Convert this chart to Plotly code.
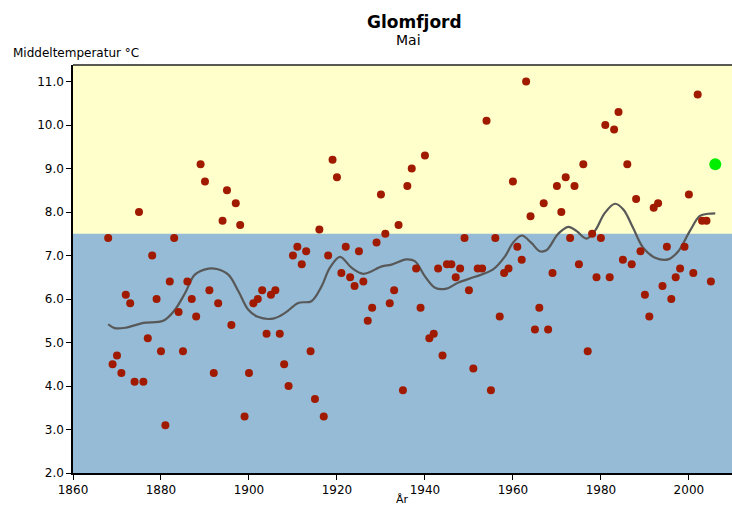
import plotly.graph_objects as go

years = list(range(1868, 2006))
temps = [
    7.4, 4.5, 4.7, 4.3, 6.1, 5.9, 4.1, 8.0, 4.1, 5.1,   # 1868-1877
    7.0, 6.0, 4.8, 3.1, 6.4, 7.4, 5.7, 4.8, 6.4, 6.0,   # 1878-1887
    5.6, 9.1, 8.7, 6.2, 4.3, 5.9, 7.8, 8.5, 5.4, 8.2,   # 1888-1897
    7.7, 3.3, 4.3, 5.9, 6.0, 6.2, 5.2, 6.1, 6.2, 5.2,   # 1898-1907
    4.5, 4.0, 7.0, 7.2, 6.8, 7.1, 4.8, 3.7, 7.6, 3.3,   # 1908-1917
    7.0, 9.2, 8.8, 6.6, 7.2, 6.5, 6.3, 7.1, 6.4, 5.5,   # 1918-1927
    5.8, 7.3, 8.4, 7.5, 5.9, 6.2, 7.7, 3.9, 8.6, 9.0,   # 1928-1937
    6.7, 5.8, 9.3, 5.1, 5.2, 6.7, 4.7, 6.8, 6.8, 6.5,   # 1938-1947
    6.7, 7.4, 6.2, 4.4, 6.7, 6.7, 10.1, 3.9, 7.4, 5.6,  # 1948-1957
    6.6, 6.7, 8.7, 7.2, 6.9, 11.0, 7.9, 5.3, 5.8, 8.2,  # 1958-1967
    5.3, 6.6, 8.6, 8.0, 8.8, 7.4, 8.6, 6.8, 9.1, 4.8,   # 1968-1977
    7.5, 6.5, 7.4, 10.0, 6.5, 9.9, 10.3, 6.9, 9.1, 6.8, # 1978-1987
    8.3, 7.1, 6.1, 5.6, 8.1, 8.2, 6.3, 7.2, 6.0, 6.5,   # 1988-1997
    6.7, 7.2, 8.4, 6.6, 10.7, 7.8, 7.8, 6.4,            # 1998-2005
]

current_year = [2006]
current_temp = [9.1]

smooth_years = [1868, 1869.5, 1872, 1876, 1880.5, 1883, 1885.5, 1887.7, 1890.8,
                1892.7, 1895.3, 1897.6, 1899.8, 1902, 1905.5, 1908.2, 1911.2,
                1914.2, 1916.5, 1918.4, 1920.7, 1923.3, 1926, 1930.2, 1932.4,
                1935.8, 1937.7, 1940, 1942.3, 1944.9, 1947.6, 1951.4, 1955.5,
                1958.2, 1960, 1962, 1964.2, 1966.1, 1967.6, 1970.3, 1972.6,
                1974.5, 1976.7, 1978.6, 1980.9, 1983.2, 1985.1, 1987.3, 1989.6,
                1992.3, 1995.3, 1997.6, 2000.2, 2002.5, 2004.4, 2006]
smooth_vals = [5.42, 5.33, 5.34, 5.45, 5.50, 5.73, 6.14, 6.56, 6.70,
               6.69, 6.56, 6.18, 5.76, 5.59, 5.55, 5.68, 5.91,
               5.95, 6.29, 6.72, 6.97, 6.72, 6.58, 6.75, 6.79,
               6.91, 6.87, 6.52, 6.26, 6.24, 6.38, 6.51, 6.68,
               6.98, 7.29, 7.46, 7.29, 7.10, 7.12, 7.50, 7.66,
               7.56, 7.39, 7.56, 7.98, 8.19, 8.06, 7.64, 7.18,
               6.95, 6.91, 7.10, 7.56, 7.91, 7.96, 7.97]

normal_level = 7.5
x_ticks = [1860, 1880, 1900, 1920, 1940, 1960, 1980, 2000]
y_ticks = [2.0, 3.0, 4.0, 5.0, 6.0, 7.0, 8.0, 9.0, 10.0, 11.0]

FONT = "DejaVu Sans"

fig = go.Figure()
fig.add_trace(go.Scatter(x=smooth_years, y=smooth_vals, mode="lines",
                         line=dict(color="#585858", width=2.2, shape="spline", smoothing=1.0),
                         hoverinfo="skip", showlegend=False))
fig.add_trace(go.Scatter(x=years, y=temps, mode="markers",
                         marker=dict(color="#a01a00", size=8, line=dict(width=0)),
                         showlegend=False))
fig.add_trace(go.Scatter(x=current_year, y=current_temp, mode="markers",
                         marker=dict(color="#00ee00", size=12, line=dict(width=0)),
                         showlegend=False, cliponaxis=False))

# background bands
fig.add_shape(type="rect", xref="paper", yref="y", x0=0, x1=1, y0=2.0, y1=normal_level,
              fillcolor="#95bbd6", line=dict(width=0), layer="below")
fig.add_shape(type="line", xref="paper", yref="paper", x0=0, x1=1, y0=1, y1=1,
              line=dict(color="#222222", width=1.5))

fig.update_layout(
    width=732, height=506,
    margin=dict(l=73, r=0, t=65, b=33, autoexpand=False),
    paper_bgcolor="white",
    plot_bgcolor="#ffffcc",
    font=dict(family=FONT, color="black", size=11),
    annotations=[
        dict(text="<b>Glomfjord</b>", xref="paper", yref="paper", x=0.5, y=1,
             xanchor="center", yanchor="bottom", xshift=12, yshift=31, showarrow=False,
             font=dict(size=17, family=FONT)),
        dict(text="Mai", xref="paper", yref="paper", x=0.5, y=1,
             xanchor="center", yanchor="bottom", xshift=6, yshift=15, showarrow=False,
             font=dict(size=14, family=FONT)),
        dict(text="Middeltemperatur °C", xref="paper", yref="paper", x=0, y=1,
             xanchor="left", yanchor="bottom", xshift=-62, yshift=3, showarrow=False,
             font=dict(size=12, family=FONT)),
        dict(text="År", xref="paper", yref="paper", x=0.5, y=0,
             xanchor="center", yanchor="top", yshift=-18, showarrow=False,
             font=dict(size=11, family=FONT)),
    ],
)
fig.update_xaxes(range=[1860, 2009.8], tickvals=x_ticks, ticks="outside", ticklen=5,
                 tickcolor="black", showgrid=False, zeroline=False, showline=True,
                 linecolor="black", linewidth=1.5, tickfont=dict(size=12))
fig.update_yaxes(range=[2.0, 11.38], tickvals=y_ticks, tickformat=".1f", ticks="outside",
                 ticklen=5, tickcolor="black", showgrid=False, zeroline=False,
                 showline=True, linecolor="black", linewidth=1.5, tickfont=dict(size=12))

fig.write_html("out.html", config={"displayModeBar": False},
               post_script="document.body.style.margin='0';document.body.style.overflow='hidden';")
